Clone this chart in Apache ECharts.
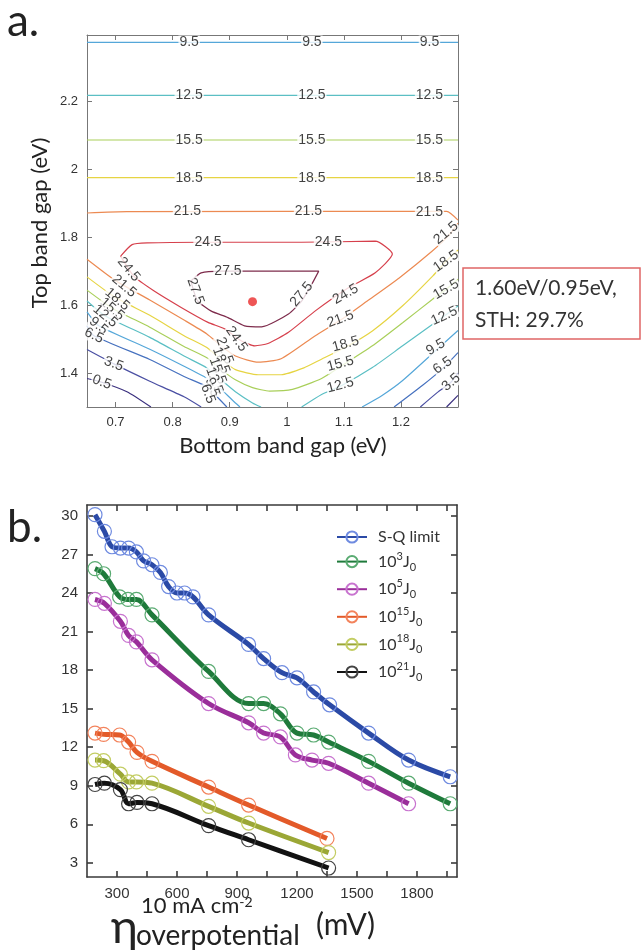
<!DOCTYPE html>
<html><head><meta charset="utf-8">
<script src="https://cdn.jsdelivr.net/npm/echarts@6/dist/echarts.min.js"></script>
<style>html,body{margin:0;padding:0;background:#fff}#c{width:644px;height:950px}</style>
</head><body><div id="c"></div>
<script>
// ================= Panel a: contour map (Bottom gap vs Top gap) =================
const xTicksA = [0.7, 0.8, 0.9, 1, 1.1, 1.2];
const yTicksA = [1.4, 1.6, 1.8, 2, 2.2];
const levels = ['0.5', '3.5', '6.5', '9.5', '12.5', '15.5', '18.5', '21.5', '24.5', '27.5'];

// contour polylines, [bottom gap eV, top gap eV]
const c0_5 = [
  [[0.65,1.384],[0.676,1.373],[0.72,1.345],[0.762,1.30]],
  [[1.28,1.30],[1.30,1.334]]
];
const c3_5 = [
  [[0.65,1.469],[0.697,1.427],[0.76,1.376],[0.82,1.33],[0.85,1.30]],
  [[1.234,1.30],[1.264,1.343],[1.287,1.372],[1.30,1.40]]
];
const c6_5 = [
  [[0.65,1.539],[0.662,1.51],[0.76,1.44],[0.82,1.39],[0.86,1.36],[0.875,1.335],[0.895,1.30]],
  [[1.188,1.30],[1.238,1.364],[1.273,1.413],[1.30,1.46]]
];
const c9_5 = [
  [[0.65,2.373],[1.30,2.373]],
  [[0.65,1.58],[0.67,1.54],[0.76,1.47],[0.82,1.42],[0.86,1.385],[0.88,1.36],[0.905,1.32],[0.918,1.30]],
  [[1.132,1.30],[1.167,1.334],[1.203,1.378],[1.261,1.466],[1.30,1.525]]
];
const c12_5 = [
  [[0.65,2.217],[1.30,2.217]],
  [[0.65,1.612],[0.682,1.568],[0.76,1.505],[0.82,1.45],[0.86,1.415],[0.885,1.38],[0.91,1.345],[0.94,1.312],[0.955,1.30]],
  [[1.026,1.30],[1.061,1.337],[1.097,1.364],[1.15,1.416],[1.203,1.48],[1.247,1.533],[1.30,1.597]]
];
const c15_5 = [
  [[0.65,2.086],[1.30,2.086]],
  [[0.65,1.644],[0.695,1.59],[0.76,1.535],[0.82,1.478],[0.86,1.445],[0.885,1.41],[0.91,1.38],[0.94,1.357],[0.97,1.347],[1.01,1.352],[1.061,1.384],[1.097,1.422],[1.15,1.48],[1.203,1.548],[1.256,1.618],[1.279,1.646],[1.30,1.676]]
];
const c18_5 = [
  [[0.65,1.975],[1.30,1.975]],
  [[0.65,1.683],[0.70,1.622],[0.76,1.57],[0.82,1.51],[0.86,1.475],[0.885,1.44],[0.91,1.41],[0.95,1.395],[0.99,1.395],[1.03,1.415],[1.06,1.44],[1.102,1.475],[1.15,1.524],[1.203,1.598],[1.256,1.686],[1.279,1.729],[1.30,1.762]]
];
const c21_5 = [
  [[0.65,1.871],[0.72,1.875],[1.28,1.876],[1.30,1.85]],
  [[0.65,1.735],[0.70,1.672],[0.76,1.615],[0.82,1.556],[0.86,1.515],[0.885,1.48],[0.91,1.45],[0.95,1.432],[0.99,1.442],[1.05,1.51],[1.097,1.559],[1.141,1.612],[1.197,1.68],[1.255,1.759],[1.284,1.805],[1.30,1.841]]
];
const c24_5 = [
  [[0.709,1.744],[0.729,1.778],[0.756,1.783],[0.85,1.785],[1.026,1.785],[1.155,1.788],[1.185,1.75],[1.155,1.695],[1.108,1.651],[1.05,1.583],[1.003,1.52],[0.967,1.487],[0.944,1.48],[0.92,1.495],[0.891,1.53],[0.862,1.549],[0.815,1.593],[0.767,1.642],[0.732,1.685],[0.709,1.744]]
];
const c27_5 = [
  [[0.832,1.671],[0.85,1.695],[0.885,1.70],[1.056,1.70],[1.044,1.662],[1.026,1.612],[1.003,1.574],[0.956,1.536],[0.926,1.539],[0.897,1.563],[0.867,1.583],[0.844,1.612],[0.837,1.641],[0.832,1.671]]
];
const contourSets = [c0_5, c3_5, c6_5, c9_5, c12_5, c15_5, c18_5, c21_5, c24_5, c27_5];

// contour labels: [text, x, y, angle]
const contourLabels = [
  ['9.5',0.829,2.373,0],['9.5',1.044,2.373,0],['9.5',1.25,2.373,0],
  ['12.5',0.829,2.217,0],['12.5',1.044,2.217,0],['12.5',1.25,2.217,0],
  ['15.5',0.829,2.086,0],['15.5',1.044,2.086,0],['15.5',1.25,2.086,0],
  ['18.5',0.829,1.975,0],['18.5',1.044,1.975,0],['18.5',1.25,1.975,0],
  ['21.5',0.826,1.876,0],['21.5',1.038,1.876,0],['21.5',1.25,1.874,0],
  ['24.5',0.862,1.786,0],['24.5',1.073,1.786,0],
  ['27.5',0.897,1.699,0],['27.5',0.84,1.641,-70],['27.5',1.026,1.632,50],
  ['24.5',0.723,1.705,-50],['24.5',1.103,1.632,30],['24.5',0.912,1.50,-55],
  ['21.5',1.094,1.559,20],['21.5',1.279,1.812,40],
  ['18.5',1.103,1.485,15],['18.5',1.279,1.729,35],
  ['15.5',1.094,1.427,15],['15.5',1.279,1.646,30],
  ['12.5',1.094,1.364,15],['12.5',1.276,1.568,25],
  ['9.5',1.261,1.476,30],['6.5',1.273,1.422,35],['3.5',1.288,1.373,40],
  ['21.5',0.715,1.656,-40],['18.5',0.703,1.617,-40],['15.5',0.694,1.588,-40],
  ['12.5',0.682,1.568,-40],['9.5',0.67,1.539,-40],['6.5',0.662,1.51,-25],
  ['3.5',0.697,1.427,-20],['0.5',0.676,1.373,-20],
  ['21.5',0.891,1.466,-70],['18.5',0.885,1.437,-70],['15.5',0.879,1.407,-70],
  ['12.5',0.873,1.378,-70],['9.5',0.87,1.358,-70],['6.5',0.862,1.339,-70]
];
const optimum = [0.94, 1.61];
const annotationLines = ['1.60eV/0.95eV,', 'STH: 29.7%'];

// ================= Panel b: STH vs overpotential =================
const xTicksB = [300,450,600,750,900,1050,1200,1350,1500,1650,1800,1950];
const xLabelsB = [300,600,900,1200,1500,1800];
const yTicksB = [3,6,9,12,15,18,21,24,27,30];
const seriesNames = ['S-Q limit','10^3 J0','10^5 J0','10^15 J0','10^18 J0','10^21 J0'];
const sqLimit = [[190,30.1],[237,28.8],[275,27.6],[317,27.5],[358,27.5],[397,27.2],[433,26.5],[475,26.2],[517,25.6],[558,24.5],[600,24.0],[638,24.0],[680,23.7],[758,22.3],[958,20.0],[1033,18.9],[1125,17.8],[1200,17.4],[1283,16.3],[1363,15.3],[1558,13.1],[1758,11.0],[1966,9.7]];
const j0e3 = [[190,25.9],[233,25.5],[313,23.7],[355,23.5],[397,23.5],[475,22.3],[758,17.9],[958,15.4],[1033,15.4],[1117,14.6],[1200,13.1],[1283,12.95],[1358,12.4],[1558,10.9],[1758,9.2],[1966,7.6]];
const j0e5 = [[190,23.5],[237,23.2],[317,21.8],[358,20.7],[397,20.2],[475,18.8],[758,15.4],[958,13.9],[1033,13.1],[1117,12.8],[1192,11.4],[1275,11.0],[1358,10.75],[1558,9.2],[1758,7.6]];
const j0e15 = [[190,13.1],[233,13.0],[313,12.95],[358,12.4],[400,11.6],[475,10.9],[758,8.9],[958,7.5],[1350,4.9]];
const j0e18 = [[190,11.0],[233,10.95],[317,9.9],[358,9.3],[397,9.3],[475,9.2],[758,7.4],[958,6.1],[1358,3.8]];
const j0e21 = [[190,9.1],[237,9.2],[317,8.7],[358,7.6],[400,7.7],[475,7.6],[758,5.9],[958,4.8],[1358,2.6]];
const seriesB = [sqLimit, j0e3, j0e5, j0e15, j0e18, j0e21];

// ================= styles =================
const contourColors = ['#3a2f7e','#4a4fa3','#4671bf','#55a7d9','#5bbfc4','#a9cf5a','#e6d443','#ec8a52','#d6404c','#7e2c4c'];
const lineColors = ['#2b4aa6','#1f7a3b','#9a2e9a','#e35a29','#9ba736','#121212'];
const markColors = ['#6f8be0','#5aab72','#c873cf','#f3835c','#c3cd63','#444444'];
const FA = '"Liberation Sans", Arial, sans-serif';
const FT = 'Lato, "Open Sans", sans-serif';

const chart = echarts.init(document.getElementById('c'), null, {width:644, height:950});

const series = [];
contourSets.forEach((set, i) => {
  set.forEach(pl => series.push({
    type:'line', xAxisIndex:0, yAxisIndex:0, data:pl, symbol:'none', smooth:0.2,
    lineStyle:{color:contourColors[i], width:1.2}, silent:true, z:2, animation:false
  }));
});
series.push({
  type:'scatter', xAxisIndex:0, yAxisIndex:0, symbol:'circle', symbolSize:1,
  itemStyle:{color:'rgba(0,0,0,0)'}, silent:true, z:5, animation:false,
  data: contourLabels.map(l => ({name:l[0], value:[l[1], l[2]], label:{rotate:l[3]}})),
  label:{show:true, position:'inside', formatter:'{b}', color:'#111', fontSize:14, fontFamily:FA,
         backgroundColor:'#fff', padding:[0,1,0,1]}
});
series.push({
  type:'scatter', xAxisIndex:0, yAxisIndex:0, symbolSize:9, silent:true, z:6, animation:false,
  itemStyle:{color:'#ea2a2a'}, data:[optimum]
});
seriesB.forEach((d, i) => {
  series.push({
    type:'line', name:seriesNames[i], xAxisIndex:2, yAxisIndex:2, data:d, smooth:0.35,
    symbol:'circle', symbolSize:14, showAllSymbol:true, animation:false,
    lineStyle:{color:lineColors[i], width:5},
    itemStyle:{color:'rgba(255,255,255,0)', borderColor:markColors[i], borderWidth:1.2},
    emphasis:{disabled:true}, z:3
  });
});

const axA = {color:'#777', width:1};
const axB = {color:'#3a3a3a', width:1.6};
function xAx(grid, min, max, pos, ticks, labels, ls, fs, tl) {
  return {type:'value', gridIndex:grid, min, max, position:pos,
    axisLine:{show:true, onZero:false, lineStyle:ls},
    axisTick:{show:true, inside:true, length:tl, customValues:ticks, lineStyle:ls},
    axisLabel:{show:!!labels, customValues:labels||ticks, color:'#333', fontSize:fs, fontFamily:FA, margin:9,
      formatter: v => String(v)},
    splitLine:{show:false}};
}

const option = {
  animation:false,
  backgroundColor:'#fff',
  grid:[
    {left:87, top:35, width:371, height:372},
    {left:87, top:505, width:370, height:372}
  ],
  xAxis:[
    xAx(0, 0.65, 1.3, 'bottom', xTicksA, xTicksA, axA, 13, 5),
    xAx(0, 0.65, 1.3, 'top', xTicksA, null, axA, 13, 5),
    xAx(1, 150, 2000, 'bottom', xTicksB, xLabelsB, axB, 15, 6),
    xAx(1, 150, 2000, 'top', xTicksB, null, axB, 15, 6)
  ],
  yAxis:[
    xAx(0, 1.3, 2.395, 'left', yTicksA, yTicksA, axA, 13, 5),
    xAx(0, 1.3, 2.395, 'right', yTicksA, null, axA, 13, 5),
    xAx(1, 1.9, 30.85, 'left', yTicksB, yTicksB, axB, 15, 6),
    xAx(1, 1.9, 30.85, 'right', yTicksB, null, axB, 15, 6)
  ],
  legend:{
    data:seriesNames, orient:'vertical', left:331, top:524, itemWidth:30, itemHeight:14, itemGap:5.6,
    selectedMode:false,
    formatter: name => {
      const m = name.match(/^10\^(\d+) J0$/);
      return m ? '{n|10}{sup|' + m[1] + '}{n|J}{sub|0}' : '{n|' + name + '}';
    },
    textStyle:{color:'#333', padding:[0,0,0,6], rich:{
      n:{fontSize:16, fontFamily:FT, color:'#333', lineHeight:22, verticalAlign:'middle'},
      sup:{fontSize:11, fontFamily:FT, color:'#333', lineHeight:12, verticalAlign:'top'},
      sub:{fontSize:11, fontFamily:FT, color:'#333', lineHeight:12, verticalAlign:'bottom'}
    }}
  },
  graphic:[
    {type:'text', x:7, y:22, style:{text:'a.', fontSize:44, fontFamily:FT, fill:'#222', align:'left', verticalAlign:'middle'}},
    {type:'text', x:7, y:528, style:{text:'b.', fontSize:44, fontFamily:FT, fill:'#222', align:'left', verticalAlign:'middle'}},
    {type:'text', x:40, y:223, rotation:Math.PI/2, style:{text:'Top band gap (eV)', fontSize:22, fontFamily:FT, fill:'#222', align:'center', verticalAlign:'middle'}},
    {type:'text', x:283, y:446, style:{text:'Bottom band gap (eV)', fontSize:22, fontFamily:FT, fill:'#222', align:'center', verticalAlign:'middle'}},
    {type:'rect', shape:{x:463, y:268, width:177, height:71}, style:{fill:'#fff', stroke:'#e06565', lineWidth:1.5}},
    {type:'text', x:475, y:288, style:{text:annotationLines[0], fontSize:21, fontFamily:FT, fill:'#333', align:'left', verticalAlign:'middle'}},
    {type:'text', x:475, y:320, style:{text:annotationLines[1], fontSize:21, fontFamily:FT, fill:'#333', align:'left', verticalAlign:'middle'}},
    {type:'text', x:111, y:928, style:{text:'η', fontSize:46, fontFamily:FT, fill:'#222', align:'left', verticalAlign:'middle'}},
    {type:'text', x:141, y:906, style:{text:'{a|10 mA cm}{s|-2}', align:'left', verticalAlign:'middle',
      rich:{a:{fontSize:22, fontFamily:FT, fill:'#222', lineHeight:22, verticalAlign:'bottom'}, s:{fontSize:14, fontFamily:FT, fill:'#222', lineHeight:13, verticalAlign:'top'}}}},
    {type:'text', x:136, y:936, style:{text:'overpotential', fontSize:28, fontFamily:FT, fill:'#222', align:'left', verticalAlign:'middle'}},
    {type:'text', x:316, y:925, style:{text:'(mV)', fontSize:30, fontFamily:FT, fill:'#222', align:'left', verticalAlign:'middle'}}
  ],
  series
};
chart.setOption(option);
</script>
</body></html>
